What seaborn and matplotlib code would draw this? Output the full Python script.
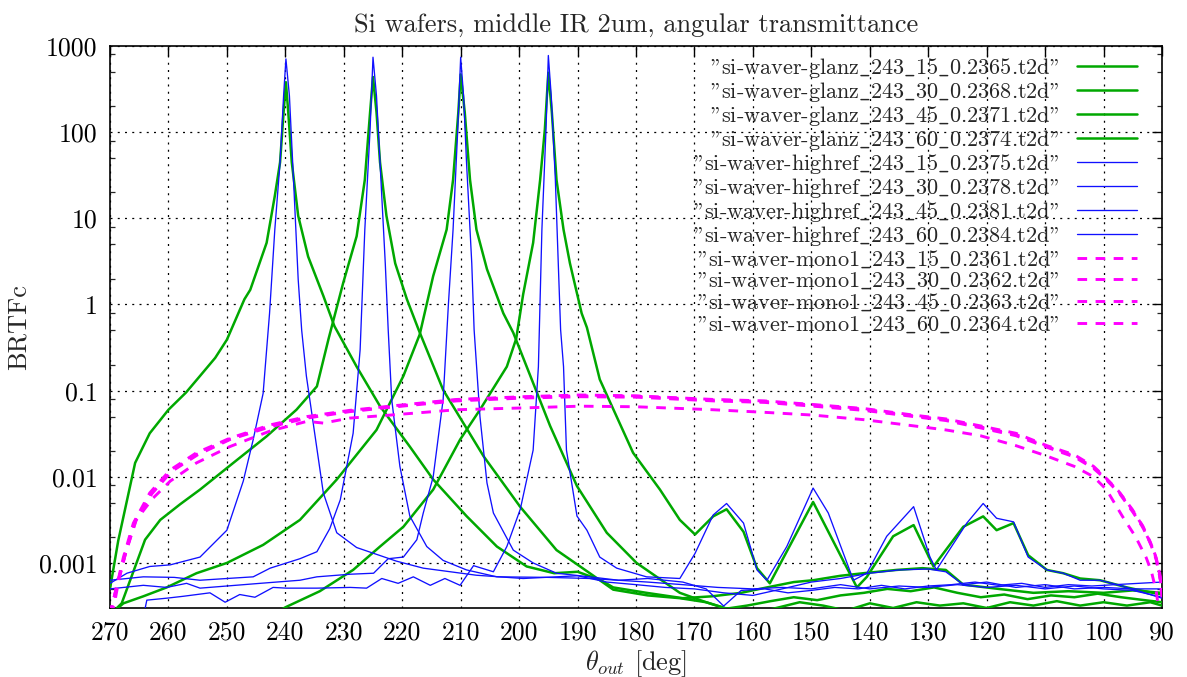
import matplotlib
matplotlib.use("Agg")
import matplotlib.pyplot as plt
import seaborn as sns
import pandas as pd
from matplotlib.ticker import LogLocator, NullFormatter

# ---------------- data ----------------
theta_glanz_15 = [270, 245, 239.8, 234.1, 228.4, 223.8, 219.8, 214.7, 210.1, 206.7, 202.1, 200.5, 199.3, 197.6, 196.4, 195.6, 195.0, 194.4, 193.6, 192.4, 191.3, 189.3, 188.4, 186.2, 180.5, 175.9, 172.5, 169.9, 166.8, 164.5, 161.6, 159.3, 157.1, 149.7, 142.2, 140.5, 136.0, 132.5, 129.1, 124.0, 120.6, 118.3, 115.4, 112.9, 109.7, 106.9, 104.0, 100.6, 96, 93, 90]
brtf_glanz_15 = [2.0e-4, 2.0e-4, 3.1e-4, 4.7e-4, 8.3e-4, 1.55e-3, 2.63e-3, 7.1e-3, 0.027, 0.060, 0.19, 0.40, 1.32, 5.2, 28, 107, 490, 170, 28, 7.4, 3.0, 0.79, 0.54, 0.135, 0.019, 7.1e-3, 3.16e-3, 2.14e-3, 3.47e-3, 4.2e-3, 2.3e-3, 8.7e-4, 5.8e-4, 5.1e-3, 5.2e-4, 6.9e-4, 2.04e-3, 2.75e-3, 9.1e-4, 2.63e-3, 3.47e-3, 2.4e-3, 2.9e-3, 1.23e-3, 8.3e-4, 7.6e-4, 6.6e-4, 6.3e-4, 5.2e-4, 4.7e-4, 4.3e-4]

theta_glanz_30 = [270, 267.7, 264.3, 260.3, 255.2, 250, 243.8, 237.5, 231.2, 224.4, 219.8, 217, 214.7, 212.4, 211.3, 210.4, 210.0, 209.3, 208.4, 207.3, 205.5, 202.7, 201, 194.7, 190.1, 185, 179.9, 172.5, 168, 164.5, 161, 157, 153, 149, 145, 141, 137, 133, 129, 125, 121, 117, 113, 109, 105, 101, 97, 93, 90]
brtf_glanz_30 = [2.5e-4, 3.4e-4, 4.1e-4, 5.2e-4, 7.6e-4, 1.0e-3, 1.62e-3, 3.16e-3, 9.3e-3, 0.035, 0.148, 0.45, 2.14, 7.4, 28, 170, 468, 170, 28, 7.4, 2.57, 0.79, 0.47, 0.039, 7.8e-3, 2.24e-3, 1.0e-3, 4.5e-4, 3.5e-4, 2.95e-4, 3.2e-4, 3.6e-4, 4.0e-4, 3.7e-4, 4.2e-4, 4.5e-4, 5.0e-4, 4.7e-4, 5.2e-4, 4.5e-4, 4.0e-4, 4.3e-4, 3.8e-4, 4.2e-4, 4.0e-4, 4.4e-4, 4.0e-4, 3.7e-4, 3.5e-4]

theta_glanz_45 = [270, 268, 264, 261.4, 258, 254.6, 248.9, 243.2, 238.1, 234.6, 232.6, 230.1, 227.8, 226.4, 225.5, 225.0, 224.4, 223.8, 222.7, 221.2, 219.2, 217.2, 213.0, 206.1, 199.8, 193.6, 187.9, 183.9, 178, 172.5, 168, 164.5, 160, 156, 152, 148, 144, 140, 136, 132, 128, 124, 120, 116, 112, 108, 104, 100, 96, 92, 90]
brtf_glanz_45 = [2.5e-4, 3.4e-4, 1.86e-3, 3.16e-3, 4.8e-3, 7.1e-3, 0.0145, 0.0295, 0.060, 0.112, 0.40, 1.78, 6.2, 28, 170, 437, 170, 44.7, 10.7, 3.0, 1.15, 0.51, 0.102, 0.0174, 4.47e-3, 1.41e-3, 7.6e-4, 4.9e-4, 4.2e-4, 3.9e-4, 3.5e-4, 2.95e-4, 2.6e-4, 3.0e-4, 3.5e-4, 3.2e-4, 2.8e-4, 3.4e-4, 3.0e-4, 3.5e-4, 3.2e-4, 3.4e-4, 3.0e-4, 3.5e-4, 3.2e-4, 3.6e-4, 3.2e-4, 3.5e-4, 3.2e-4, 3.5e-4, 3.2e-4]

theta_glanz_60 = [270, 268.6, 265.7, 263.2, 260, 257, 254.6, 252, 250, 247, 246, 243.2, 241.8, 240.9, 240.3, 239.9, 239.5, 238.9, 237.8, 236.1, 233.5, 231.6, 227.8, 223.8, 218.7, 214.7, 209, 203.8, 198.7, 194, 190, 186, 183.9, 178.2, 172, 167, 162, 157.6, 153, 149.7, 145, 141.1, 135.4, 131, 127, 124, 118, 112, 106, 100, 95, 90]
brtf_glanz_60 = [5.0e-4, 1.8e-3, 0.0145, 0.032, 0.060, 0.095, 0.148, 0.24, 0.39, 1.15, 1.48, 5.2, 18.2, 44.7, 170, 380, 170, 44.7, 10.7, 3.6, 1.26, 0.56, 0.19, 0.066, 0.0224, 9.3e-3, 3.5e-3, 1.55e-3, 9.1e-4, 7.6e-4, 7.9e-4, 6.3e-4, 5.2e-4, 4.5e-4, 3.9e-4, 4.1e-4, 4.5e-4, 5.2e-4, 6.0e-4, 6.3e-4, 7.1e-4, 7.6e-4, 8.3e-4, 8.7e-4, 8.3e-4, 5.6e-4, 5.0e-4, 4.5e-4, 4.7e-4, 4.5e-4, 4.8e-4, 4.5e-4]

theta_highref_15 = [270, 265, 264, 263.7, 260.3, 257.5, 252.9, 250.3, 247.8, 245.2, 242.1, 239.8, 234.6, 228.9, 226.1, 223.5, 220.7, 218.1, 215.2, 212.7, 210.1, 207.8, 204.4, 202.1, 199.8, 197.6, 196.7, 196.1, 195.4, 195.0, 194.5, 193.8, 193.3, 192.9, 192.4, 191.9, 190.1, 188.4, 186.2, 183.3, 178.2, 172.5, 169.9, 166.8, 164.5, 161.6, 159.3, 157.6, 154.2, 149.7, 147.1, 142.8, 140.5, 137.1, 132.5, 129.7, 128.6, 123.4, 120.6, 118.3, 115.4, 112.9, 109.7, 106.9, 104.0, 100.6, 96.8, 90]
brtf_highref_15 = [2.0e-4, 2.5e-4, 2.95e-4, 3.7e-4, 3.9e-4, 4.1e-4, 4.5e-4, 3.5e-4, 4.3e-4, 4.0e-4, 5.2e-4, 5.1e-4, 5.1e-4, 5.2e-4, 5.1e-4, 6.6e-4, 5.8e-4, 6.9e-4, 5.5e-4, 6.6e-4, 5.5e-4, 9.3e-4, 7.9e-4, 1.55e-3, 4.2e-3, 0.0204, 0.19, 7.4, 107, 776, 263, 28, 3.0, 0.51, 0.19, 0.0204, 3.5e-3, 2.4e-3, 1.17e-3, 8.7e-4, 6.9e-4, 6.6e-4, 1.29e-3, 3.6e-3, 4.9e-3, 2.9e-3, 8.3e-4, 6.3e-4, 1.55e-3, 7.4e-3, 3.8e-3, 6.3e-4, 7.6e-4, 2.04e-3, 4.5e-3, 1.17e-3, 8.3e-4, 2.9e-3, 4.9e-3, 3.3e-3, 3.0e-3, 1.17e-3, 8.3e-4, 7.6e-4, 6.3e-4, 6.3e-4, 5.4e-4, 3.9e-4]

theta_highref_30 = [270, 264.3, 260.3, 256.9, 254.6, 250, 244.3, 237.5, 234.6, 228.9, 224.9, 222.4, 219.8, 217.5, 216.4, 214.7, 213, 212.1, 211.3, 210.5, 210, 209.5, 209, 208.1, 207.7, 206.7, 205.5, 204.4, 201, 197.6, 193.6, 187.9, 183, 178, 172, 168, 165, 162, 158, 154, 150, 146, 142, 138, 134, 130, 126, 122, 118, 114, 110, 106, 102, 98, 94, 90]
brtf_highref_30 = [5.0e-4, 5.5e-4, 5.2e-4, 5.8e-4, 5.1e-4, 5.4e-4, 5.8e-4, 6.3e-4, 6.9e-4, 7.4e-4, 7.6e-4, 1.12e-3, 1.17e-3, 1.86e-3, 3.8e-3, 0.010, 0.079, 1.0, 7.4, 107, 741, 263, 44.7, 3.0, 0.51, 0.050, 8.5e-3, 3.8e-3, 1.41e-3, 1.0e-3, 7.6e-4, 6.9e-4, 6.3e-4, 6.6e-4, 6.0e-4, 5.0e-4, 3.16e-4, 4.8e-4, 5.0e-4, 4.5e-4, 4.8e-4, 5.2e-4, 5.0e-4, 5.5e-4, 5.0e-4, 5.4e-4, 5.6e-4, 6.0e-4, 5.5e-4, 5.8e-4, 5.2e-4, 5.6e-4, 5.4e-4, 5.6e-4, 5.8e-4, 6.0e-4]

theta_highref_45 = [270, 264.3, 259, 254.6, 250, 245.5, 242.6, 237.5, 234.6, 232.4, 230.6, 228.4, 227.2, 226.4, 225.5, 225.0, 224.4, 223.8, 222.9, 222.4, 221.8, 220.4, 218.7, 215.8, 213, 209, 203.8, 195, 187.9, 183, 178, 172, 166, 160, 155, 150, 145, 140, 135, 130, 125, 120, 115, 110, 105, 100, 95, 90]
brtf_highref_45 = [6.3e-4, 6.9e-4, 6.8e-4, 6.3e-4, 6.6e-4, 6.9e-4, 8.7e-4, 1.12e-3, 1.35e-3, 2.5e-3, 5.4e-3, 0.032, 0.30, 7.4, 107, 741, 263, 44.7, 3.0, 0.51, 0.079, 0.0132, 3.5e-3, 1.55e-3, 1.07e-3, 8.3e-4, 6.9e-4, 6.8e-4, 6.6e-4, 6.3e-4, 6.0e-4, 5.6e-4, 5.2e-4, 5.0e-4, 5.2e-4, 5.0e-4, 5.6e-4, 5.0e-4, 5.4e-4, 5.2e-4, 5.6e-4, 5.2e-4, 5.5e-4, 5.0e-4, 5.4e-4, 5.0e-4, 4.8e-4, 4.0e-4]

theta_highref_60 = [270, 267.1, 263.2, 259.7, 254.6, 250, 247.2, 245.5, 243.8, 242.7, 241.8, 240.9, 240.3, 239.9, 239.3, 238.6, 237.8, 237.2, 236.4, 233.5, 231.2, 227.8, 221, 216.4, 207.3, 199.3, 190, 185, 180, 175, 170, 165, 160, 155, 150, 145, 140, 135, 130, 127, 124, 120, 115, 110, 105, 100, 95, 90]
brtf_highref_60 = [5.8e-4, 7.6e-4, 9.1e-4, 9.5e-4, 1.17e-3, 2.4e-3, 8.9e-3, 0.027, 0.093, 0.79, 7.4, 44.7, 263, 708, 263, 28, 1.95, 0.50, 0.148, 6.5e-3, 2.24e-3, 1.51e-3, 1.05e-3, 8.7e-4, 7.2e-4, 6.6e-4, 7.1e-4, 6.0e-4, 5.6e-4, 5.2e-4, 5.0e-4, 4.5e-4, 4.2e-4, 5.0e-4, 6.0e-4, 6.6e-4, 7.6e-4, 8.3e-4, 8.5e-4, 7.9e-4, 5.6e-4, 6.0e-4, 5.2e-4, 5.6e-4, 5.0e-4, 5.2e-4, 5.0e-4, 5.0e-4]

theta_mono1_15 = [270, 269.7, 268.9, 267.7, 266, 263.2, 259.7, 255.2, 249.5, 242.6, 236.3, 229, 222.1, 210.7, 199.3, 189.6, 180, 166.8, 158, 149.7, 141, 132.5, 127, 121.1, 115, 109.7, 105, 101.7, 99.8, 97.5, 95.1, 93.5, 92.2, 91.2, 90.5, 90]
brtf_mono1_15 = [2.5e-4, 3.1e-4, 5.2e-4, 1.17e-3, 2.9e-3, 6.5e-3, 0.012, 0.019, 0.028, 0.040, 0.050, 0.059, 0.066, 0.079, 0.085, 0.089, 0.087, 0.079, 0.076, 0.069, 0.062, 0.052, 0.047, 0.039, 0.032, 0.023, 0.018, 0.0132, 0.010, 6.9e-3, 4.2e-3, 2.8e-3, 1.82e-3, 1.26e-3, 8.1e-4, 4.0e-4]

theta_mono1_30 = [270, 269.6, 268.8, 267.5, 265.8, 263, 259.5, 255, 249.5, 242.6, 236.3, 229, 222.1, 210.7, 199.3, 189.6, 180, 166.8, 158, 149.7, 141, 132.5, 127, 121.1, 115, 109.7, 105, 101.7, 99.5, 97.2, 95, 93.3, 92, 91, 90.3, 90]
brtf_mono1_30 = [2.5e-4, 3.2e-4, 5.5e-4, 1.2e-3, 3.0e-3, 6.3e-3, 0.0115, 0.018, 0.027, 0.038, 0.048, 0.057, 0.064, 0.076, 0.082, 0.085, 0.084, 0.076, 0.073, 0.066, 0.059, 0.050, 0.045, 0.037, 0.030, 0.022, 0.017, 0.0125, 9.2e-3, 6.3e-3, 3.9e-3, 2.6e-3, 1.7e-3, 1.1e-3, 6.5e-4, 4.2e-4]

theta_mono1_45 = [270, 269.6, 268.7, 267.4, 265.6, 262.8, 259.4, 255, 249.5, 242.6, 236.3, 229, 222.1, 210.7, 199.3, 189.6, 180, 166.8, 158, 149.7, 141, 132.5, 127, 121.1, 115, 109.7, 105, 101.7, 99.6, 97.3, 95, 93.3, 92, 91, 90.3, 90]
brtf_mono1_45 = [2.5e-4, 3.3e-4, 5.8e-4, 1.25e-3, 3.1e-3, 6.4e-3, 0.0118, 0.0185, 0.0275, 0.039, 0.049, 0.058, 0.065, 0.078, 0.084, 0.087, 0.086, 0.078, 0.075, 0.068, 0.061, 0.051, 0.046, 0.038, 0.031, 0.0225, 0.0175, 0.0128, 9.6e-3, 6.6e-3, 4.0e-3, 2.7e-3, 1.75e-3, 1.15e-3, 7.0e-4, 4.4e-4]

theta_mono1_60 = [270, 269.3, 268.5, 267.2, 265.5, 262.7, 259.7, 255.2, 249.5, 242.6, 236.3, 233.5, 229, 222.1, 210.7, 199.3, 189.6, 180, 166.8, 158, 149.7, 141, 132.5, 127, 121.1, 115, 109.7, 105, 101.7, 99.5, 96.8, 94.5, 92.7, 91.8, 91, 90.4]
brtf_mono1_60 = [2.5e-4, 3.2e-4, 6.3e-4, 1.41e-3, 3.16e-3, 5.6e-3, 8.9e-3, 0.0145, 0.0224, 0.034, 0.044, 0.042, 0.048, 0.052, 0.060, 0.063, 0.066, 0.065, 0.060, 0.056, 0.052, 0.046, 0.039, 0.035, 0.030, 0.023, 0.0174, 0.0132, 0.010, 7.1e-3, 3.5e-3, 2.0e-3, 1.15e-3, 7.9e-4, 4.7e-4, 2.5e-4]

file_names = [
    "si-waver-glanz_243_15_0.2365.t2d",
    "si-waver-glanz_243_30_0.2368.t2d",
    "si-waver-glanz_243_45_0.2371.t2d",
    "si-waver-glanz_243_60_0.2374.t2d",
    "si-waver-highref_243_15_0.2375.t2d",
    "si-waver-highref_243_30_0.2378.t2d",
    "si-waver-highref_243_45_0.2381.t2d",
    "si-waver-highref_243_60_0.2384.t2d",
    "si-waver-mono1_243_15_0.2361.t2d",
    "si-waver-mono1_243_30_0.2362.t2d",
    "si-waver-mono1_243_45_0.2363.t2d",
    "si-waver-mono1_243_60_0.2364.t2d",
]
x_ticks = [270, 260, 250, 240, 230, 220, 210, 200, 190, 180, 170, 160, 150, 140, 130, 120, 110, 100, 90]
y_ticks = [0.001, 0.01, 0.1, 1, 10, 100, 1000]
y_tick_labels = ["0.001", "0.01", "0.1", "1", "10", "100", "1000"]

series = [
    (theta_glanz_15, brtf_glanz_15), (theta_glanz_30, brtf_glanz_30),
    (theta_glanz_45, brtf_glanz_45), (theta_glanz_60, brtf_glanz_60),
    (theta_highref_15, brtf_highref_15), (theta_highref_30, brtf_highref_30),
    (theta_highref_45, brtf_highref_45), (theta_highref_60, brtf_highref_60),
    (theta_mono1_15, brtf_mono1_15), (theta_mono1_30, brtf_mono1_30),
    (theta_mono1_45, brtf_mono1_45), (theta_mono1_60, brtf_mono1_60),
]


def legend_label(name):
    # TeX-style key text: the quote character is set as a closing quote in
    # Computer Modern, and the underscores are typeset as \_
    return '"' + name.replace("_", r"$\_$") + '"'


# ---------------- style ----------------
sns.set_theme(style="white")
plt.rcParams["font.family"] = ["cmr10", "DejaVu Serif"]
plt.rcParams["mathtext.fontset"] = "cm"
plt.rcParams["axes.unicode_minus"] = False
plt.rcParams["axes.formatter.use_mathtext"] = True

GREEN = "#00a800"
BLUE = "#1010ff"
MAGENTA = "#ff00ff"

fig = plt.figure(figsize=(11.87, 6.77), dpi=100)
ax = fig.add_axes([110 / 1187, 1 - 608 / 677, 1052 / 1187, 562 / 677])

for i, ((xs, ys), name) in enumerate(zip(series, file_names)):
    df = pd.DataFrame({"theta": xs, "brtf": ys})
    if i < 4:
        kw = dict(color=GREEN, linewidth=1.8, linestyle="-")
    elif i < 8:
        kw = dict(color=BLUE, linewidth=0.95, linestyle="-")
    else:
        kw = dict(color=MAGENTA, linewidth=2.1, linestyle=(0, (3.3, 2.9)))
    sns.lineplot(data=df, x="theta", y="brtf", ax=ax, label=legend_label(name),
                 estimator=None, sort=False, zorder=3 + i, **kw)

ax.set_yscale("log")
ax.set_xlim(270, 90)
ax.set_ylim(3.0e-4, 1000)

ax.set_xticks(x_ticks)
ax.set_xticklabels([str(t) for t in x_ticks])
ax.set_yticks(y_ticks)
ax.set_yticklabels(y_tick_labels)
ax.yaxis.set_minor_locator(LogLocator(base=10, subs=(2.0, 5.0, 8.0)))
ax.yaxis.set_minor_formatter(NullFormatter())
ax.xaxis.set_minor_locator(plt.NullLocator())

ax.tick_params(axis="both", which="major", direction="in", length=7, width=1.0,
               top=True, right=True, labelsize=18.5, pad=9, colors="black")
ax.tick_params(axis="y", which="minor", direction="in", length=3.6, width=0.9,
               left=True, right=True)
for s in ax.spines.values():
    s.set_color("black")
    s.set_linewidth(1.2)

ax.grid(True, which="major", color="black", linestyle=(0, (1.6, 4.2)), linewidth=0.9)
ax.set_axisbelow(True)

ax.set_title("Si wafers, middle IR 2um, angular transmittance", fontsize=19, pad=10)
ax.set_xlabel(r"$\theta_{out}$ [deg]", fontsize=19, labelpad=3)
ax.set_ylabel("BRTFc", fontsize=19, labelpad=6)

leg = ax.legend(loc="upper right", bbox_to_anchor=(1 - 25 / 1052, 1 - 10 / 562),
                frameon=False, markerfirst=False, fontsize=16,
                handlelength=2.7, handletextpad=0.8, labelspacing=0.0,
                borderaxespad=0, borderpad=0)
leg.set_zorder(20)

fig.savefig("out.png", dpi=100)
